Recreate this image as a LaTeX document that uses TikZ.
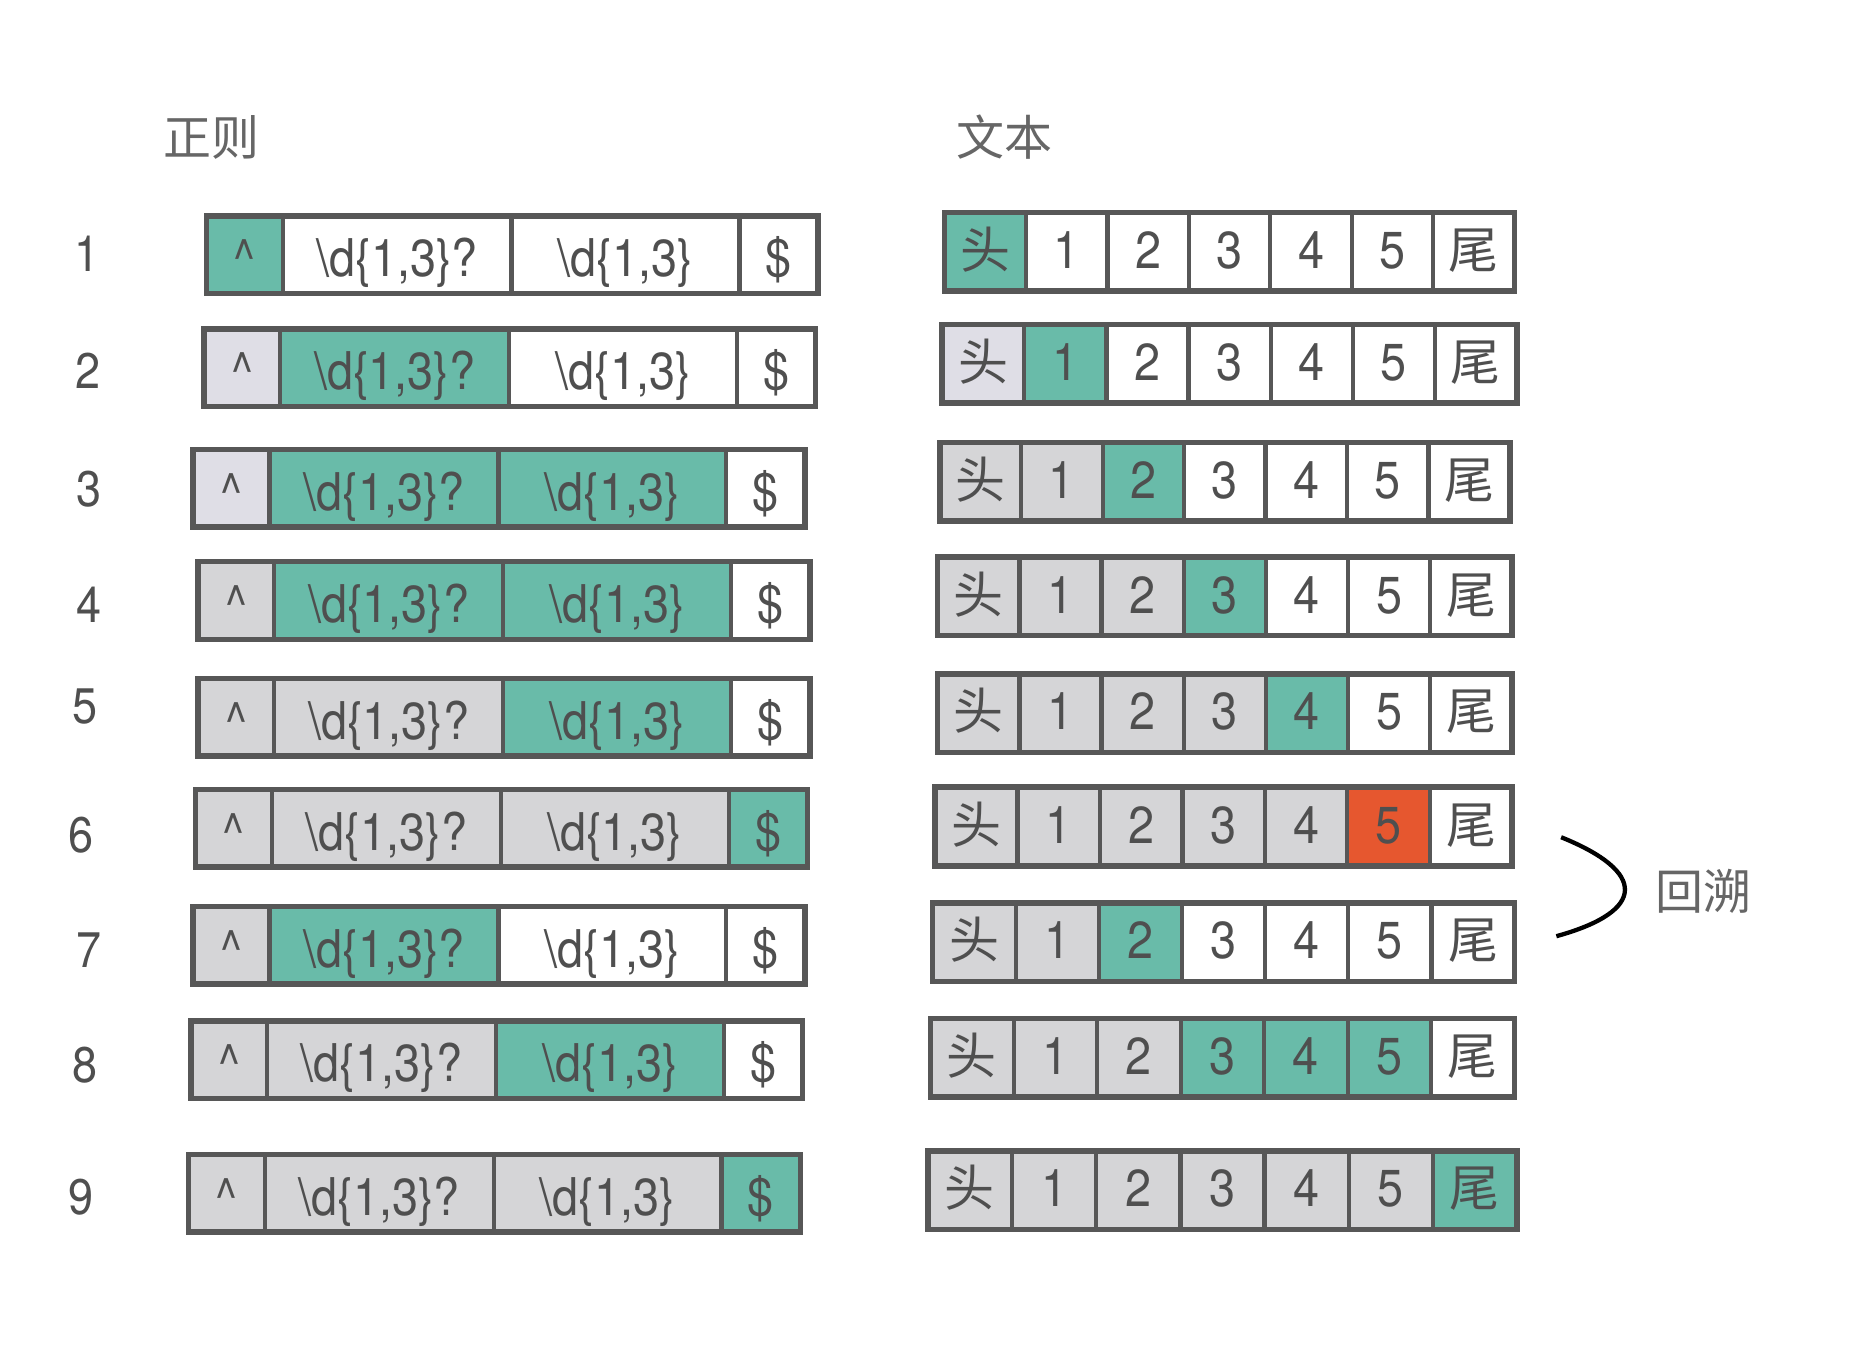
\documentclass[tikz,border=0pt]{standalone}
\usepackage{fontspec}
\setmainfont{TeX Gyre Heros}[FakeStretch=0.9]
\newfontfamily\cjk{Noto Sans CJK SC}
\definecolor{cT}{HTML}{69BBA9}
\definecolor{cW}{HTML}{FFFFFF}
\definecolor{cG}{HTML}{D5D5D7}
\definecolor{cL}{HTML}{DFDEE6}
\definecolor{cO}{HTML}{E6572F}
\definecolor{cB}{HTML}{575757}
\definecolor{cTx}{HTML}{4F4F4F}
\definecolor{cHd}{HTML}{666666}
\def\pxu{1.1926pt}
\tikzset{
  cell/.style={draw=cB, line width=3.6*\pxu, inner sep=0pt, outer sep=0pt, text=cTx,
    font=\fontsize{52}{52}\selectfont},
  rcell/.style={cell, minimum height=65*\pxu, text height=44.13pt, text depth=0pt},
  tcell/.style={cell, minimum height=66*\pxu, text height=33.4pt, text depth=0pt},
  outer/.style={draw=cB, line width=4.6*\pxu},
  num/.style={text=cTx, inner sep=0pt, font=\fontsize{50}{50}\selectfont},
  head/.style={text=cHd, inner sep=0pt, font=\cjk\fontsize{48}{48}\selectfont},
}
\newcommand\regrow[7]{%
  \node[rcell, fill=#4, minimum width=64*\pxu] (g#1a) at (#2+32,#3+32.5) {\textasciicircum};
  \node[rcell, fill=#5, minimum width=192*\pxu] (g#1b) at (#2+160,#3+32.5) {\textbackslash d\{1,3\}?};
  \node[rcell, fill=#6, minimum width=191*\pxu] (g#1c) at (#2+351.5,#3+32.5) {\textbackslash d\{1,3\}};
  \node[rcell, fill=#7, minimum width=66*\pxu] (g#1d) at (#2+480,#3+32.5) {\$};
  \draw[outer] (g#1a.north west) rectangle (g#1d.south east);
}
\newcommand\txtrow[5]{%
  \foreach \f [count=\i] in {#5} {
    \node[tcell, fill=\f, minimum width={(#3-#2)/7*\pxu}] (t#1-\i) at ({#2+(\i-0.5)*(#3-#2)/7}, #4+33)
      {\ifcase\i\or{\cjk\fontsize{50}{50}\selectfont 头}\or 1\or 2\or 3\or 4\or 5\or{\cjk\fontsize{50}{50}\selectfont 尾}\fi};
  }
  \draw[outer] (t#1-1.north west) rectangle (t#1-7.south east);
}
\begin{document}
\begin{tikzpicture}[x=1.1926pt,y=-1.1926pt]
\useasboundingbox[fill=white] (0,0) rectangle (1568,1132);
% headers
\node[head] (h1) at (177,115) {正则};
\node[head] (h2) at (842,115) {文本};
% row numbers
\node[num] (n1) at (73,213) {1};
\node[num] (n2) at (74,311) {2};
\node[num] (n3) at (75,410) {3};
\node[num] (n4) at (75,507) {4};
\node[num] (n5) at (71,592) {5};
\node[num] (n6) at (68,700) {6};
\node[num] (n7) at (75,797) {7};
\node[num] (n8) at (71,893) {8};
\node[num] (n9) at (68,1004) {9};
% regex rows
\regrow{1}{173}{181}{cT}{cW}{cW}{cW}
\regrow{2}{171}{276}{cL}{cT}{cW}{cW}
\regrow{3}{162}{377}{cL}{cT}{cT}{cW}
\regrow{4}{166}{471}{cG}{cT}{cT}{cW}
\regrow{5}{166}{569}{cG}{cG}{cT}{cW}
\regrow{6}{164}{662}{cG}{cG}{cG}{cT}
\regrow{7}{162}{760}{cG}{cT}{cW}{cW}
\regrow{8}{160}{856}{cG}{cG}{cT}{cW}
\regrow{9}{158}{968}{cG}{cG}{cG}{cT}
% text rows
\txtrow{1}{792}{1270}{178}{cT,cW,cW,cW,cW,cW,cW}
\txtrow{2}{790}{1272}{272}{cL,cT,cW,cW,cW,cW,cW}
\txtrow{3}{788}{1266}{371}{cG,cG,cT,cW,cW,cW,cW}
\txtrow{4}{786}{1268}{467}{cG,cG,cG,cT,cW,cW,cW}
\txtrow{5}{786}{1268}{565}{cG,cG,cG,cG,cT,cW,cW}
\txtrow{6}{784}{1268}{660}{cG,cG,cG,cG,cG,cO,cW}
\txtrow{7}{782}{1270}{757}{cG,cG,cT,cW,cW,cW,cW}
\txtrow{8}{780}{1270}{854}{cG,cG,cG,cT,cT,cT,cW}
\txtrow{9}{778}{1272}{965}{cG,cG,cG,cG,cG,cG,cT}
% backtrack arc
\coordinate (arcA) at (1309,702);
\coordinate (arcB) at (1305,785);
\draw[black, line width=3.6*\pxu] (arcA) .. controls (1381,731) and (1381,764) .. (arcB);
\node[head] (bt) at (1428,747) {回溯};
\end{tikzpicture}
\end{document}
